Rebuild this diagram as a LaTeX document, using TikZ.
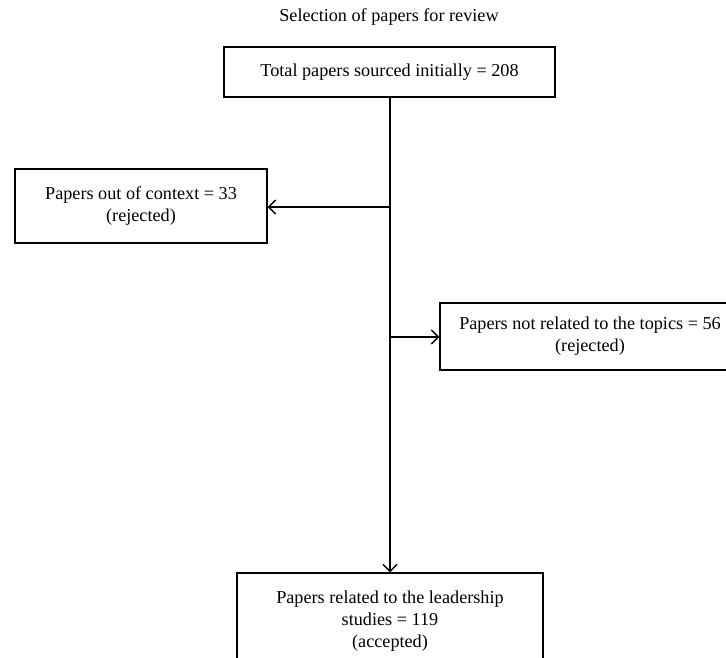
\documentclass[tikz,border=0pt]{standalone}
\usepackage{fontspec}
\setmainfont{Liberation Serif}
\usetikzlibrary{arrows.meta}
\begin{document}
\begin{tikzpicture}[x=1pt,y=-1pt,
  box/.style={draw, line width=1.2pt, align=center, inner sep=0pt,
    font=\fontsize{18.2}{22}\selectfont},
  conn/.style={line width=1.1pt},
  arr/.style={conn, -{Straight Barb[length=7pt,width=14pt,line width=1.5pt]}}]
\useasboundingbox (0,0) rectangle (726,658);
\clip (0,0) rectangle (726,658);
\node[font=\fontsize{18.2}{22}\selectfont] (title) at (389,17) {Selection of papers for review};
\node[box, minimum width=331pt, minimum height=50pt] (top) at (389.5,72) {Total papers sourced initially = 208};
\node[box, minimum width=252pt, minimum height=74pt] (left) at (141,206) {Papers out of context = 33\\(rejected)};
\node[box, minimum width=300pt, minimum height=67pt] (right) at (590,336.5) {Papers not related to the topics = 56\\(rejected)};
\node[box, minimum width=306pt, minimum height=96pt] (bottom) at (390,621) {Papers related to the leadership\\studies = 119\\(accepted)};
\coordinate (j1) at (390,207);
\coordinate (j2) at (390,337);
\draw[arr] (top.south -| j1) -- (bottom.north -| j1);
\draw[arr] (j1) -- (left.east |- j1);
\draw[arr] (j2) -- (right.west |- j2);
\end{tikzpicture}
\end{document}
